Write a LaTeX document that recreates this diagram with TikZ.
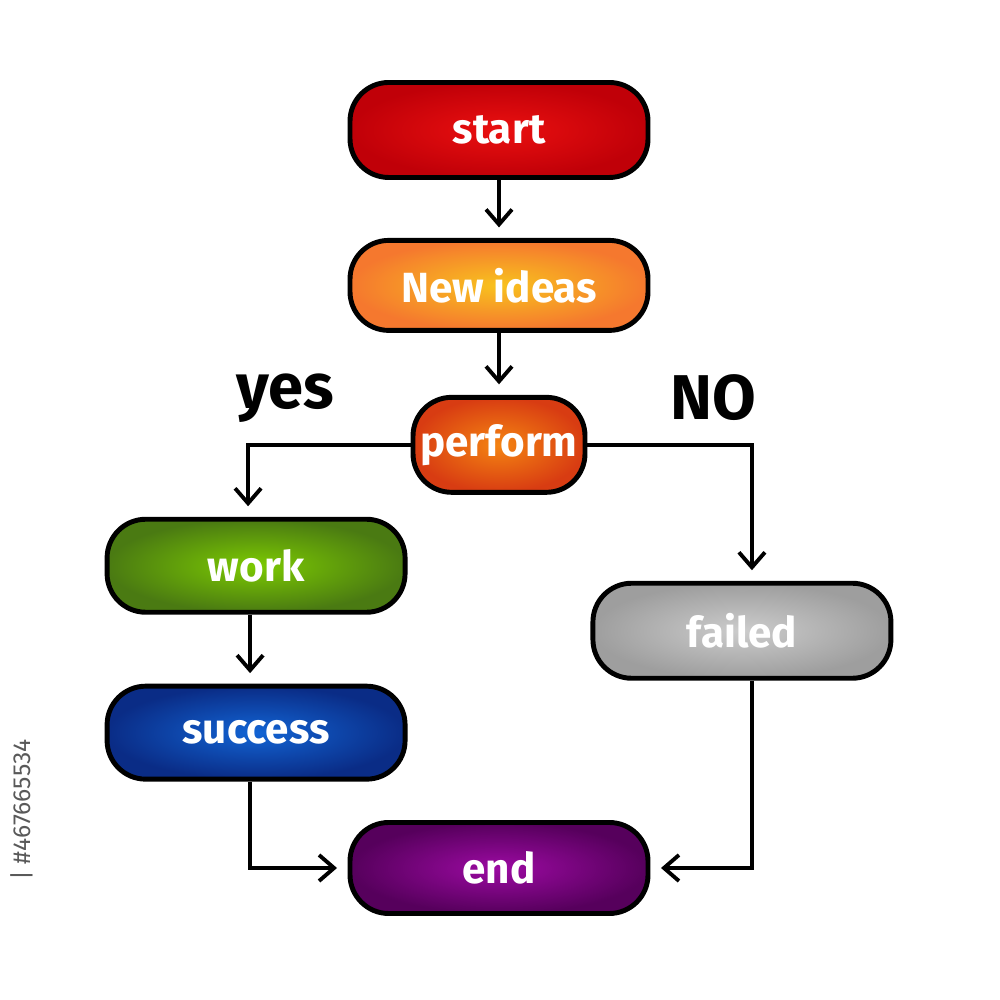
\documentclass[tikz,border=0pt]{standalone}
\usepackage{fontspec}
\setmainfont{Fira Sans}
\usepackage{xcolor}
\usetikzlibrary{arrows.meta, positioning, calc}
\definecolor{redin}{HTML}{EA1010}
\definecolor{redout}{HTML}{C00008}
\definecolor{orgin}{HTML}{F8C21E}
\definecolor{orgout}{HTML}{F5782E}
\definecolor{perin}{HTML}{F48412}
\definecolor{perout}{HTML}{D83C12}
\definecolor{grnin}{HTML}{7CCA02}
\definecolor{grnout}{HTML}{4A7A12}
\definecolor{bluin}{HTML}{1264D4}
\definecolor{bluout}{HTML}{0A2C86}
\definecolor{gryin}{HTML}{CCCCCC}
\definecolor{gryout}{HTML}{9E9E9E}
\definecolor{purin}{HTML}{9C0AA2}
\definecolor{purout}{HTML}{56005C}
\tikzset{
    flowbox/.style={rectangle, draw=black, line width=1.4pt, rounded corners=11pt, text centered, text=white, font=\fontsize{12}{14}\selectfont\bfseries, minimum width=2.98cm, minimum height=0.93cm, inner sep=2pt},
    arrow/.style={line width=1.1pt, -{Straight Barb[length=1.5mm, width=2.6mm, line width=1.1pt]}, color=black, shorten >=3pt},
    line/.style={line width=1.1pt, color=black},
    answer/.style={font=\fontsize{18}{20}\selectfont\bfseries, text=black}
}
\begin{document}
\begin{tikzpicture}
    \useasboundingbox [fill=white] (0,0) rectangle (10,10);
    % Nodes
    \node (start) [flowbox, shade, inner color=redin, outer color=redout, minimum height=0.95cm] at (4.99,8.70) {start};
    \node (ideas) [flowbox, shade, inner color=orgin, outer color=orgout, minimum height=0.90cm, below=0.58cm of start] {New ideas};
    \node (perform) [flowbox, shade, inner color=perin, outer color=perout, minimum width=1.72cm, minimum height=0.95cm, below=0.62cm of ideas] {perform};

    \node (work) [flowbox, shade, inner color=grnin, outer color=grnout, below left=0.22cm and 0.03cm of perform] {work};
    \node (success) [flowbox, shade, inner color=bluin, outer color=bluout, below=0.69cm of work] {success};
    \node (failed) [flowbox, shade, inner color=gryin, outer color=gryout, minimum height=0.95cm, below right=0.86cm and 0.03cm of perform] {failed};

    \node (finish) [flowbox, shade, inner color=purin, outer color=purout, minimum height=0.91cm] at (4.99,1.32) {end};

    \node (yes) [answer] at (2.85,6.02) {yes};
    \node (no) [answer] at (7.13,6.02) {NO};

    \node (stockid) [rotate=90, text=black!65, font=\fontsize{7}{8}\selectfont] at (0.22,1.9) {|\ \#467665534};

    % Arrows
    \draw [arrow] (start) -- (ideas);
    \draw [arrow] (ideas) -- (perform);

    \draw [arrow] (perform.west) -| ([xshift=-0.8mm]work.north);
    \draw [arrow] (perform.east) -| ([xshift=1mm]failed.north);

    \draw [arrow] ([xshift=-0.6mm]work.south) -- ([xshift=-0.6mm]success.north);

    \draw [arrow] ([xshift=-0.6mm]success.south) |- (finish.west);
    \draw [arrow] ([xshift=1mm]failed.south) |- (finish.east);
\end{tikzpicture}
\end{document}
